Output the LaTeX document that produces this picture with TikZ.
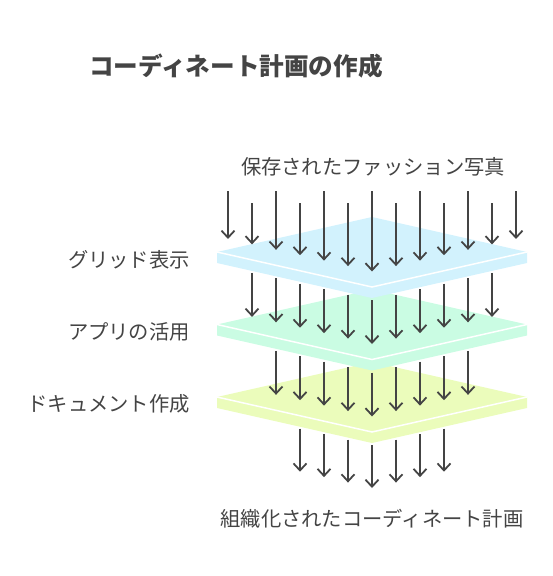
\documentclass[tikz,border=0pt]{standalone}
\usepackage{fontspec}
\setmainfont{Noto Sans CJK JP}
\usepackage{tikz}
\usetikzlibrary{arrows.meta}

% one flat layer: top face, thin side, white front edge
\newcommand{\drawslab}[2]{%
  \fill[#2] (217,#1) -- (372,#1-35) -- (527,#1) -- (527,#1+11) -- (372,#1+46) -- (217,#1+11) -- cycle;
  \draw[white, line width=1.5pt] (217,#1) -- (372,#1+35) -- (527,#1);
}

\begin{document}
\begin{tikzpicture}[x=1pt,y=-1pt,
  flow/.style={-{Straight Barb[length=7pt,width=13pt]}, line width=1.8pt, draw=arrowgray},
  label/.style={text=textgray, font=\fontsize{20.3}{24}\selectfont, inner sep=0pt}]
\definecolor{arrowgray}{HTML}{444444}
\definecolor{textgray}{HTML}{444444}
\definecolor{gridblue}{HTML}{D2F2FD}
\definecolor{appgreen}{HTML}{CAFCE3}
\definecolor{docyellow}{HTML}{EBFCBB}
\useasboundingbox (0,0) rectangle (552,576);

% title and texts
\node[anchor=west, text=textgray, font=\fontsize{24.6}{29}\selectfont\bfseries, inner sep=0pt] (title) at (89,66) {コーディネート計画の作成};
\node[label] (photos) at (373,167) {保存されたファッション写真};
\node[label, anchor=east] (lblgrid) at (190,260) {グリッド表示};
\node[label, anchor=east] (lblapp) at (190,332) {アプリの活用};
\node[label, anchor=east] (lbldoc) at (190,404) {ドキュメント作成};
\node[label] (plan) at (372,519) {組織化されたコーディネート計画};

% bottom layer and what leaves it
\drawslab{397}{docyellow}
\foreach \x in {300,324,...,444} {
  \pgfmathsetmacro{\drop}{abs(\x-372)*0.2258}
  \draw[flow] (\x,397+48-\drop) -- (\x,397+91-\drop);
}

% arrows onto the yellow layer
\foreach \x in {276,300,...,468} {
  \pgfmathsetmacro{\drop}{abs(\x-372)*0.2258}
  \draw[flow] (\x,324.5+48-\drop) -- (\x,397+19.5-\drop);
}

% middle layer, arrows onto it
\drawslab{324.5}{appgreen}
\foreach \x in {252,276,...,492} {
  \pgfmathsetmacro{\drop}{abs(\x-372)*0.2258}
  \draw[flow] (\x,252+48-\drop) -- (\x,324.5+19.5-\drop);
}

% top layer, incoming photos
\drawslab{252}{gridblue}
\foreach \x in {228,276,...,516} {
  \pgfmathsetmacro{\drop}{abs(\x-372)*0.2258}
  \draw[flow] (\x,191) -- (\x,252+19.5-\drop);
}
\foreach \x in {252,300,...,492} {
  \pgfmathsetmacro{\drop}{abs(\x-372)*0.2258}
  \draw[flow] (\x,203) -- (\x,252+19.5-\drop);
}
\end{tikzpicture}
\end{document}
